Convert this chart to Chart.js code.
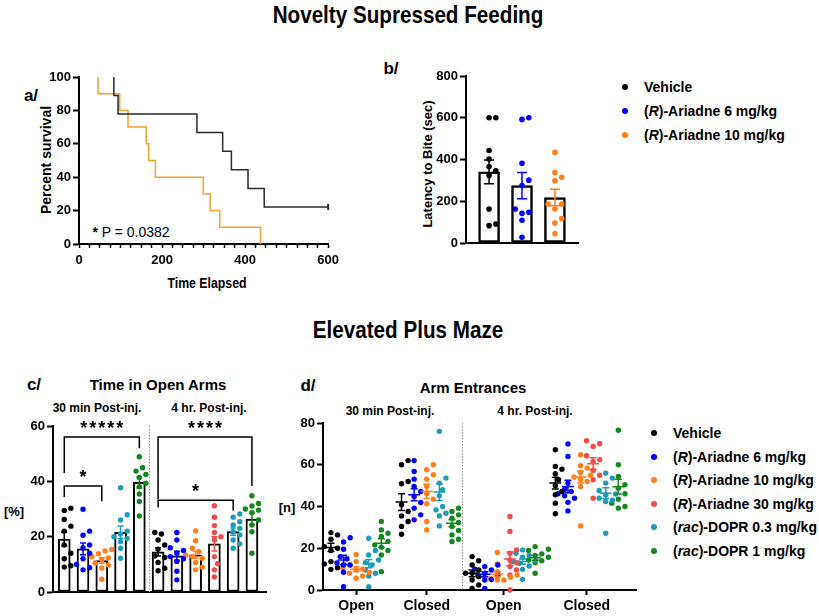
<!DOCTYPE html>
<html lang="en">
<head>
<meta charset="UTF-8">
<title>Novelty Supressed Feeding / Elevated Plus Maze</title>
<style>
  body { margin: 0; background: #fff; }
  #page { position: relative; width: 819px; height: 616px; overflow: hidden;
          font-family: "Liberation Sans", Arial, sans-serif; color: #000; }
  #page canvas { position: absolute; }
  .lbl { position: absolute; font-weight: bold; white-space: nowrap; line-height: 1;
         transform: translate(-50%, -50%); }
  .narrow { transform: translate(-50%, -50%) scaleX(0.86); }
  .narrow2 { transform: translate(-50%, -50%) scaleX(0.82); }
  .vert { transform: translate(-50%, -50%) rotate(-90deg); }
  .legtxt { position: absolute; font-weight: bold; font-size: 14px; white-space: nowrap;
            line-height: 1; transform: translateY(-50%); }
  .legdot { position: absolute; width: 6px; height: 6px; border-radius: 50%; }
</style>
</head>
<body>
<div id="page">
  <div class="lbl narrow" style="left:408px; top:15px; font-size:24px;">Novelty Supressed Feeding</div>
  <div class="lbl narrow" style="left:408px; top:330px; font-size:24px;">Elevated Plus Maze</div>

  <div class="lbl" style="left:31px; top:95px; font-size:17px;">a/</div>
  <div class="lbl vert" style="left:46px; top:160px; font-size:14px;">Percent survival</div>
  <div class="lbl narrow2" style="left:207px; top:282px; font-size:15px;">Time Elapsed</div>
  <div class="lbl" style="left:131px; top:232px; font-size:14px; font-weight:normal;"><b>*</b> P = 0.0382</div>

  <div class="lbl" style="left:391px; top:68px; font-size:17px;">b/</div>
  <div class="lbl vert" style="left:427px; top:164px; font-size:13px;">Latency to Bite (sec)</div>

  <div class="lbl" style="left:34px; top:384px; font-size:17px;">c/</div>
  <div class="lbl" style="left:158px; top:384px; font-size:15px;">Time in Open Arms</div>
  <div class="lbl" style="left:97px; top:408px; font-size:12px;">30 min Post-inj.</div>
  <div class="lbl" style="left:209px; top:408px; font-size:12px;">4 hr. Post-inj.</div>
  <div class="lbl" style="left:14px; top:511px; font-size:13px;">[%]</div>

  <div class="lbl" style="left:308px; top:385px; font-size:17px;">d/</div>
  <div class="lbl" style="left:473px; top:387px; font-size:15px;">Arm Entrances</div>
  <div class="lbl" style="left:390px; top:411px; font-size:12px;">30 min Post-inj.</div>
  <div class="lbl" style="left:535px; top:411px; font-size:12px;">4 hr. Post-inj.</div>
  <div class="lbl" style="left:287px; top:507px; font-size:13px;">[n]</div>
</div>

<script src="https://cdn.jsdelivr.net/npm/chart.js"></script>
<script>
  // ---------- data ----------
  const treatments = ['Vehicle', '(R)-Ariadne 6 mg/kg', '(R)-Ariadne 10 mg/kg',
                      '(R)-Ariadne 30 mg/kg', '(rac)-DOPR 0.3 mg/kg', '(rac)-DOPR 1 mg/kg'];
  const treatmentColors = ['#000000', '#0000ff', '#ff7f1a', '#f24b4b', '#1d9bb8', '#12881c'];

  // a/ survival (Kaplan-Meier steps)
  const survTimeVehicle = [84, 84, 94, 284, 346, 367, 407, 446, 600];
  const survPctVehicle = [100, 88.9, 77.8, 66.7, 55.6, 44.4, 33.3, 22.2, 22.2];
  const survTimeR10 = [46, 46, 98, 118, 162, 168, 184, 299, 316, 339, 437];
  const survPctR10 = [100, 90, 80, 70, 60, 50, 40, 30, 20, 10, 0];

  // b/ latency to bite (sec)
  const latencyPts = [
    [600, 600, 443, 402, 366, 346, 323, 163, 91, 83],
    [600, 592, 382, 301, 275, 163, 147, 142, 109, 27],
    [434, 338, 315, 298, 187, 186, 163, 117, 96, 45]
  ];
  const latencyMean = [341, 275, 218];
  const latencySem = [57, 63, 40];

  // c/ time in open arms (%)
  const openTime30Pts = [
    [30.3, 29.5, 26.2, 23.8, 22, 17, 14, 12, 9.5, 9],
    [29.9, 22, 20.5, 17, 16, 14, 12, 10, 8.8, 8],
    [15.4, 14.8, 13.8, 12.8, 12.3, 11.7, 10.5, 9.8, 8.7, 4.6],
    null,
    [37.7, 27.9, 26, 22, 21, 20, 19.4, 18.2, 15.8, 12.2],
    [48.9, 44.9, 43.7, 42.5, 41.4, 39.3, 38, 35.4, 32.7, 27.5]
  ];
  const openTime30Mean = [19.1, 15.6, 11.4, null, 21.6, 39.6];
  const openTime30Sem = [2.5, 2.1, 1.0, null, 2.3, 2.0];
  const openTime4hPts = [
    [21.5, 21, 18.8, 17, 15.5, 13, 12.5, 10.7, 8.6, 7.7],
    [21.5, 18.8, 16, 15, 14, 12.8, 12, 11, 7.5, 4.4],
    [22.1, 18.5, 15.8, 14.6, 13.4, 12.8, 12.2, 10.7, 9, 8],
    [31.2, 27, 24, 21.5, 20, 18.8, 12.8, 10.2, 8, 5.4],
    [28.2, 27, 25.4, 24.2, 23, 21.8, 20.6, 18.8, 17.4, 15.8],
    [34.8, 32, 31.1, 30, 29.6, 28.7, 26, 24.2, 21.8, 14]
  ];
  const openTime4hMean = [14.5, 13.1, 13.4, 17.4, 21.8, 26.4];
  const openTime4hSem = [1.5, 1.6, 1.3, 2.6, 1.3, 2.1];
  // significance brackets: bar index from/to, bracket level, end levels
  const openTimeSig = [
    { from: 0, to: 4, level: 56, endFrom: 43, endTo: 52, label: '*****' },
    { from: 0, to: 2, level: 38.3, endFrom: 34.3, endTo: 32.8, label: '*' },
    { from: 5, to: 10, level: 56, endFrom: 33.5, endTo: 38.3, label: '****' },
    { from: 5, to: 9, level: 33.2, endFrom: 30.5, endTo: 29.5, label: '*' }
  ];

  // d/ arm entrances (n)
  const armLabels = ['Open', 'Closed', 'Open', 'Closed'];
  const entries30OpenPts = [
    [27.5, 26.4, 24.3, 20.8, 20, 18.9, 13.6, 12.5, 10.7, 9.9],
    [25, 23, 19.5, 16, 15, 13, 12, 12, 8.5, 1.6],
    [17, 13.6, 12, 10.4, 10, 9.6, 8.5, 8, 6.7, 5.6],
    null,
    [24.8, 18.9, 16.8, 14.4, 13.1, 12, 9.6, 8, 6.7, 1.6],
    [32.8, 28.8, 27.2, 25.6, 23.2, 21.6, 20.5, 18.9, 16.8, 8.8]
  ];
  const entries30OpenMean = [20.4, 14.4, 10, null, 12.6, 22.4];
  const entries30OpenSem = [2, 2.2, 1.1, null, 2, 2.1];
  const entries30ClosedPts = [
    [62, 60, 52, 50.9, 40.8, 37.6, 35.5, 32.8, 30.4, 26.7],
    [62, 56.8, 53.1, 49.6, 47.2, 44.8, 41.9, 39.2, 36, 33.6],
    [60, 57.6, 55.2, 53.1, 49.6, 46.1, 43.5, 41.3, 32.8, 28.8],
    null,
    [76, 53.6, 51.2, 48, 45.1, 40, 38.4, 36.8, 35.5, 30.7],
    [39.2, 37.6, 36, 34.4, 32.3, 30.4, 28.5, 26.4, 24.3, 23.2]
  ];
  const entries30ClosedMean = [42.1, 45.6, 47.2, null, 46.9, 32];
  const entries30ClosedSem = [4, 2.9, 3.4, null, 4, 1.7];
  const entries4hOpenPts = [
    [16, 14, 12, 9.6, 8, 8, 6.4, 4.8, 2.4, 0.8],
    [12, 11.2, 10, 9.6, 8, 7.2, 7, 5, 4.8, 0.8],
    [18, 12.5, 8.8, 7.5, 7.2, 6.5, 6.1, 5.5, 4.8, 4.8],
    [35.2, 28, 19.2, 17.6, 14.4, 13.1, 11.2, 9.6, 7.2, 0],
    [19.2, 17.6, 16.5, 15.7, 14.1, 13.5, 12.8, 11.5, 9.9, 5.1],
    [20.8, 19.5, 18.9, 17.3, 16.5, 15.7, 14.4, 14, 13.1, 8]
  ];
  const entries4hOpenMean = [8, 7.5, 7.5, 14.9, 13.6, 15.5];
  const entries4hOpenSem = [1.6, 1.2, 1.3, 3.3, 1.3, 1.2];
  const entries4hClosedPts = [
    [67.2, 59.2, 57.9, 55.7, 52.8, 50, 47.2, 45.6, 41.6, 36.5],
    [70, 64, 51.2, 48.3, 47.2, 46.1, 45.1, 44, 42, 37.9],
    [64.8, 59.5, 58.4, 56.3, 55, 54.1, 53, 52, 49.6, 30.7],
    [71.5, 70.1, 68.8, 64.3, 62.4, 61.6, 57.3, 55, 52.8, 44],
    [56, 53.6, 51.2, 47.7, 46, 45.6, 44, 43, 42.4, 27.2],
    [76.5, 60, 54.4, 50.4, 48.8, 46.1, 43.5, 41.6, 40, 39.2]
  ];
  const entries4hClosedMean = [51.2, 49.6, 54.1, 60.5, 46.4, 49.5];
  const entries4hClosedSem = [2.8, 3, 2.8, 2.8, 2.6, 3.5];

  // ---------- helpers ----------
  Chart.defaults.font.family = '"Liberation Sans", Arial, sans-serif';
  Chart.defaults.color = '#000';

  const page = document.getElementById('page');

  function makeCanvas(b) {
    const c = document.createElement('canvas');
    c.width = b.width; c.height = b.height;
    c.style.left = b.left + 'px'; c.style.top = b.top + 'px';
    page.appendChild(c);
    return c;
  }
  function plotSize(b) {
    return { w: b.width - b.yw - b.pr, h: b.height - b.pt - b.xh };
  }
  function baseOptions(b) {
    return {
      responsive: false, animation: false, events: [],
      layout: { padding: { left: 0, right: b.pr, top: b.pt, bottom: 0 } },
      plugins: { legend: { display: false }, tooltip: { enabled: false } }
    };
  }
  function yAxis(b, min, max, step) {
    return {
      min, max,
      afterFit: s => { s.width = b.yw; },
      border: { color: '#000', width: 2 },
      grid: { drawOnChartArea: false, tickLength: 6, tickColor: '#000', tickWidth: 2 },
      ticks: { stepSize: step, padding: 2, font: { size: 13, weight: 'bold' } }
    };
  }

  // simple beeswarm: returns horizontal offsets (in x units) so dots do not overlap
  function swarm(values, pxY, pxX, r) {
    const minD = 2 * r + 1.2;
    const order = values.map((v, i) => i).sort((a, b) => values[a] - values[b]);
    const placed = [];
    const offs = new Array(values.length);
    for (const i of order) {
      const y = values[i] * pxY;
      for (let k = 0; k < 40; k++) {
        const o = Math.ceil(k / 2) * (k % 2 ? 1 : -1) * minD / 2;
        if (placed.every(p => Math.hypot(p.x - o, p.y - y) >= minD)) {
          placed.push({ x: o, y });
          offs[i] = o / pxX;
          break;
        }
      }
    }
    return offs;
  }

  function dotDataset(pts, pos, color, pxY, pxX, r) {
    const offs = swarm(pts, pxY, pxX, r);
    return {
      type: 'scatter', order: 0, clip: false,
      data: pts.map((v, k) => ({ x: pos + offs[k], y: v })),
      backgroundColor: color, pointRadius: r, pointBorderWidth: 0, pointHoverRadius: r
    };
  }

  function marksPlugin(cfg) {
    return {
      id: 'marks',
      beforeDatasetsDraw(chart) {
        const { ctx, chartArea, scales: { x } } = chart;
        ctx.save();
        ctx.strokeStyle = '#9a9a9a';
        ctx.lineWidth = 1;
        ctx.setLineDash([1.5, 1.5]);
        (cfg.separators || []).forEach(v => {
          const px = Math.round(x.getPixelForValue(v)) + 0.5;
          ctx.beginPath(); ctx.moveTo(px, chartArea.top); ctx.lineTo(px, chartArea.bottom); ctx.stroke();
        });
        ctx.restore();
      },
      afterDatasetsDraw(chart) {
        const { ctx, scales: { x, y } } = chart;
        ctx.save();
        ctx.lineWidth = 1.5;
        (cfg.errors || []).forEach(e => {
          const px = x.getPixelForValue(e.x);
          const top = y.getPixelForValue(e.mean + e.sem);
          const bot = y.getPixelForValue(e.mean - e.sem);
          const mid = y.getPixelForValue(e.mean);
          ctx.strokeStyle = e.color;
          ctx.beginPath();
          ctx.moveTo(px, top); ctx.lineTo(px, bot);
          ctx.moveTo(px - cfg.cap, top); ctx.lineTo(px + cfg.cap, top);
          ctx.moveTo(px - cfg.cap, bot); ctx.lineTo(px + cfg.cap, bot);
          if (cfg.meanHalf) { ctx.moveTo(px - cfg.meanHalf, mid); ctx.lineTo(px + cfg.meanHalf, mid); }
          ctx.stroke();
        });
        ctx.strokeStyle = '#000';
        ctx.fillStyle = '#000';
        ctx.font = 'bold 18px "Liberation Sans", Arial, sans-serif';
        ctx.textAlign = 'center';
        ctx.textBaseline = 'alphabetic';
        if ('letterSpacing' in ctx) ctx.letterSpacing = '2px';
        (cfg.brackets || []).forEach(s => {
          const x1 = x.getPixelForValue(s.x1), x2 = x.getPixelForValue(s.x2);
          const yl = y.getPixelForValue(s.level);
          ctx.beginPath();
          ctx.moveTo(x1, y.getPixelForValue(s.endFrom)); ctx.lineTo(x1, yl);
          ctx.lineTo(x2, yl); ctx.lineTo(x2, y.getPixelForValue(s.endTo));
          ctx.stroke();
          ctx.fillText(s.label, (x1 + x2) / 2 + 1, yl - 3);
        });
        ctx.restore();
      }
    };
  }

  function legend(names, colors, dotX, textX, top, step) {
    names.forEach((n, i) => {
      const y = top + i * step;
      const d = document.createElement('div');
      d.className = 'legdot';
      d.style.left = (dotX - 3) + 'px'; d.style.top = (y - 3) + 'px';
      d.style.background = colors[i];
      page.appendChild(d);
      const t = document.createElement('div');
      t.className = 'legtxt';
      t.style.left = textX + 'px'; t.style.top = y + 'px';
      t.innerHTML = n.replace(/\((R|rac)\)/, '(<i>$1</i>)');
      page.appendChild(t);
    });
  }

  // ---------- a/ survival ----------
  const boxA = { left: 30, top: 65, width: 314, height: 205, yw: 49, xh: 26, pt: 12, pr: 14 };
  new Chart(makeCanvas(boxA), {
    type: 'line',
    data: {
      datasets: [
        {
          data: survTimeVehicle.map((t, i) => ({ x: t, y: survPctVehicle[i] })),
          borderColor: '#2a2a2a', borderWidth: 1.5, stepped: true, clip: false,
          pointStyle: 'line', rotation: 90, pointBorderColor: '#2a2a2a', pointBorderWidth: 2,
          pointRadius: ctx => ctx.dataIndex === survTimeVehicle.length - 1 ? 3 : 0
        },
        {
          data: survTimeR10.map((t, i) => ({ x: t, y: survPctR10[i] })),
          borderColor: '#f5a033', borderWidth: 1.5, stepped: true, pointRadius: 0, clip: false
        }
      ]
    },
    options: Object.assign(baseOptions(boxA), {
      scales: {
        x: {
          type: 'linear', min: 0, max: 600,
          afterFit: s => { s.height = boxA.xh; },
          border: { color: '#000', width: 2 },
          grid: { drawOnChartArea: false, tickLength: 4, tickColor: '#000', tickWidth: 1.5 },
          ticks: {
            stepSize: 25, autoSkip: false, maxRotation: 0, padding: 5,
            font: { size: 13, weight: 'bold' },
            callback: v => (v % 200 === 0 ? v : '')
          }
        },
        y: yAxis(boxA, 0, 100, 20)
      }
    })
  });

  // ---------- b/ latency ----------
  const boxB = { left: 420, top: 64, width: 163, height: 189, yw: 46, xh: 10, pt: 12, pr: 5 };
  const xMinB = 0.3, xMaxB = 3.7;
  const szB = plotSize(boxB);
  const pxYB = szB.h / 800, pxXB = szB.w / (xMaxB - xMinB);
  new Chart(makeCanvas(boxB), {
    type: 'bar',
    data: {
      datasets: [
        {
          order: 1,
          data: latencyMean.map((m, i) => ({ x: i + 1, y: m })),
          backgroundColor: '#fff', borderColor: '#000', borderWidth: 2.5,
          borderSkipped: false, barThickness: 21
        },
        ...latencyPts.map((p, i) => dotDataset(p, i + 1, treatmentColors[i], pxYB, pxXB, 2.8))
      ]
    },
    options: Object.assign(baseOptions(boxB), {
      scales: {
        x: {
          type: 'linear', min: xMinB, max: xMaxB, offset: false,
          afterFit: s => { s.height = boxB.xh; },
          border: { color: '#000', width: 2 }, grid: { display: false }, ticks: { display: false }
        },
        y: yAxis(boxB, 0, 800, 200)
      }
    }),
    plugins: [marksPlugin({
      cap: 5,
      errors: latencyMean.map((m, i) => ({ x: i + 1, mean: m, sem: latencySem[i], color: treatmentColors[i] }))
    })]
  });
  legend(treatments.slice(0, 3), treatmentColors, 625, 644, 87, 24);

  // ---------- c/ time in open arms ----------
  const boxC = { left: 0, top: 414, width: 270, height: 188, yw: 53, xh: 10, pt: 12, pr: 4 };
  const xMinC = -0.6, xMaxC = 10.75;
  const szC = plotSize(boxC);
  const pxYC = szC.h / 60, pxXC = szC.w / (xMaxC - xMinC);
  const barsC = [];
  [[openTime30Pts, openTime30Mean, openTime30Sem], [openTime4hPts, openTime4hMean, openTime4hSem]]
    .forEach(([pts, mean, sem]) => {
      pts.forEach((p, t) => {
        if (p) barsC.push({ pos: barsC.length, t, pts: p, mean: mean[t], sem: sem[t] });
      });
    });
  const sepC = barsC.findIndex((b, i) => i > 0 && b.t === 0) - 0.5;
  new Chart(makeCanvas(boxC), {
    type: 'bar',
    data: {
      datasets: [
        {
          order: 1,
          data: barsC.map(b => ({ x: b.pos, y: b.mean })),
          backgroundColor: '#fff', borderColor: '#000', borderWidth: 2,
          borderSkipped: false, barThickness: 12
        },
        ...barsC.map(b => dotDataset(b.pts, b.pos, treatmentColors[b.t], pxYC, pxXC, 2.7))
      ]
    },
    options: Object.assign(baseOptions(boxC), {
      scales: {
        x: {
          type: 'linear', min: xMinC, max: xMaxC, offset: false,
          afterFit: s => { s.height = boxC.xh; },
          border: { color: '#000', width: 2 }, grid: { display: false }, ticks: { display: false }
        },
        y: yAxis(boxC, 0, 60, 20)
      }
    }),
    plugins: [marksPlugin({
      cap: 3,
      separators: [sepC],
      errors: barsC.map(b => ({ x: b.pos, mean: b.mean, sem: b.sem, color: treatmentColors[b.t] })),
      brackets: openTimeSig.map(s => ({ x1: s.from, x2: s.to, level: s.level,
                                        endFrom: s.endFrom, endTo: s.endTo, label: s.label }))
    })]
  });

  // ---------- d/ arm entrances ----------
  const boxD = { left: 290, top: 411, width: 350, height: 205, yw: 33, xh: 26, pt: 12, pr: 4 };
  const xMinD = -0.63, xMaxD = 24.2, blockGap = 0.6;
  const szD = plotSize(boxD);
  const pxYD = szD.h / 80, pxXD = szD.w / (xMaxD - xMinD);
  const blocksD = [
    [entries30OpenPts, entries30OpenMean, entries30OpenSem],
    [entries30ClosedPts, entries30ClosedMean, entries30ClosedSem],
    [entries4hOpenPts, entries4hOpenMean, entries4hOpenSem],
    [entries4hClosedPts, entries4hClosedMean, entries4hClosedSem]
  ];
  const groupsD = [], centersD = [], blockEnds = [];
  let posD = 0;
  blocksD.forEach(([pts, mean, sem]) => {
    const first = posD;
    pts.forEach((p, t) => {
      if (p) { groupsD.push({ pos: posD, t, pts: p, mean: mean[t], sem: sem[t] }); posD += 1; }
    });
    centersD.push((first + posD - 1) / 2);
    blockEnds.push([first, posD - 1]);
    posD += blockGap;
  });
  // dotted divider between the 30 min and 4 hr blocks
  const sepD = (blockEnds[1][1] + blockEnds[2][0]) / 2;
  new Chart(makeCanvas(boxD), {
    type: 'scatter',
    data: {
      datasets: groupsD.map(g => dotDataset(g.pts, g.pos, treatmentColors[g.t], pxYD, pxXD, 2.7))
    },
    options: Object.assign(baseOptions(boxD), {
      scales: {
        x: {
          type: 'linear', min: xMinD, max: xMaxD,
          afterFit: s => { s.height = boxD.xh; },
          afterBuildTicks: s => { s.ticks = centersD.map(v => ({ value: v })); },
          border: { color: '#000', width: 2 },
          grid: { drawOnChartArea: false, tickLength: 5, tickColor: '#000', tickWidth: 2 },
          ticks: {
            autoSkip: false, maxRotation: 0, padding: 3,
            font: { size: 14, weight: 'bold' },
            callback: (v, i) => armLabels[i]
          }
        },
        y: yAxis(boxD, 0, 80, 20)
      }
    }),
    plugins: [marksPlugin({
      cap: 3.5, meanHalf: 6,
      separators: [sepD],
      errors: groupsD.map(g => ({ x: g.pos, mean: g.mean, sem: g.sem, color: treatmentColors[g.t] }))
    })]
  });
  legend(treatments, treatmentColors, 654, 673, 433, 23.6);
</script>
</body>
</html>
